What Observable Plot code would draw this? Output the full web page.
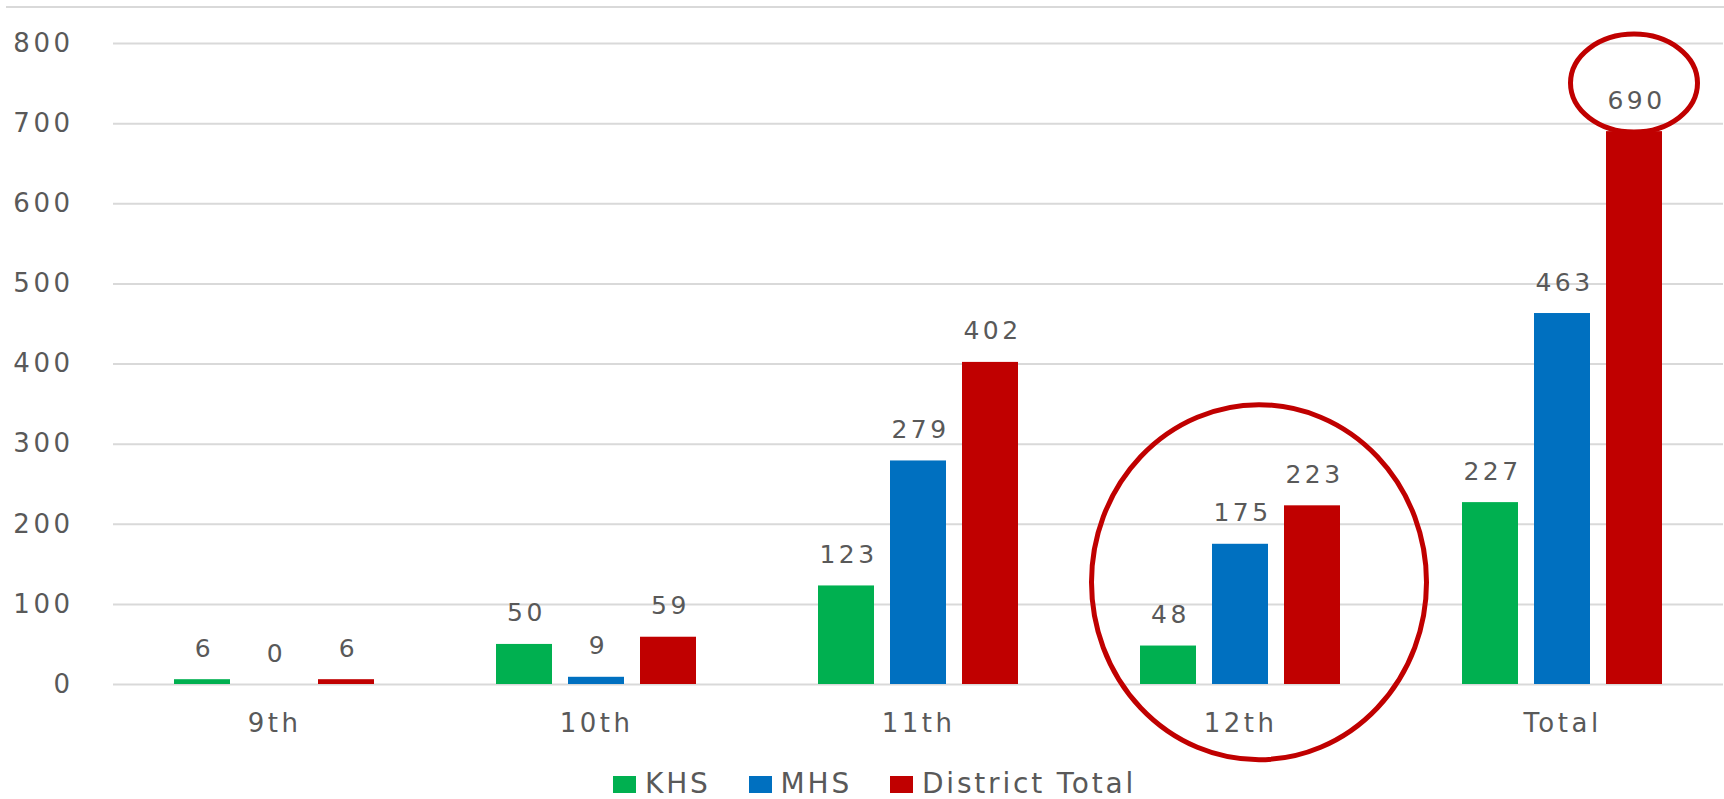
<!DOCTYPE html>
<html>
<head>
<meta charset="utf-8">
<script src="https://cdn.jsdelivr.net/npm/d3@7"></script>
<script src="https://cdn.jsdelivr.net/npm/@observablehq/plot@0.6"></script>
<style>
  html, body { margin: 0; padding: 0; background: #fff; }
  #wrap { position: relative; width: 1724px; height: 799px; overflow: hidden; font-family: "DejaVu Sans", sans-serif; }
  #topline { position: absolute; top: 6px; left: 6px; right: 0; height: 2px; background: #d9d9d9; }
  #chart { position: absolute; top: 0; left: 0; }
  #legend { position: absolute; top: 770px; left: 613px; display: flex; align-items: center; font-size: 28px; letter-spacing: 2.8px; color: #595959; line-height: 28px; height: 28px; }
  #legend .item { display: flex; align-items: center; margin-right: 38px; }
  #legend .sw { width: 23px; height: 17px; margin-right: 9px; }
</style>
</head>
<body>
<div id="wrap">
  <div id="topline"></div>
  <div id="chart"></div>
  <div id="legend"></div>
</div>
<script>
const categories = ["9th", "10th", "11th", "12th", "Total"];
const schools = ["KHS", "MHS", "District Total"];
const khs = [6, 50, 123, 48, 227];
const mhs = [0, 9, 279, 175, 463];
const district = [6, 59, 402, 223, 690];
const yTicks = [0, 100, 200, 300, 400, 500, 600, 700, 800];
const colors = ["#00b050", "#0070c0", "#c00000"];
const annotations = [
  {grade: "12th", school: "MHS", value: 127},
  {grade: "Total", school: "District Total", value: 750}
];

const series = [khs, mhs, district];
const rows = categories.flatMap((g, i) => schools.map((s, j) => ({grade: g, school: s, value: series[j][i]})));

function ellipseRender(data, rx, ry, dx) {
  return (index, scales) => {
    const g = d3.create("svg:g");
    for (const i of index) {
      const d = data[i];
      const cx = scales.x(d.school) + scales.x.bandwidth() / 2 + dx;
      const cy = scales.y(d.value);
      g.append("ellipse")
        .attr("cx", cx).attr("cy", cy).attr("rx", rx).attr("ry", ry)
        .attr("fill", "none").attr("stroke", "#c00000").attr("stroke-width", 5);
    }
    return g.node();
  };
}

const ann1 = [annotations[0]];
const ann2 = [annotations[1]];

const plot = Plot.plot({
  width: 1724,
  height: 760,
  marginTop: 43,
  marginBottom: 76,
  marginLeft: 112,
  marginRight: 0,
  style: {fontFamily: "DejaVu Sans", fontSize: "26px", color: "#595959", letterSpacing: "3.5px", background: "transparent", overflow: "visible"},
  fx: {domain: categories, padding: 0, label: null, axis: "bottom", tickSize: 0, tickPadding: 29},
  x: {domain: schools, paddingInner: 0.222, paddingOuter: 0.84, axis: null},
  y: {domain: [0, 800], ticks: yTicks, tickSize: 0, tickPadding: 40, label: null},
  color: {domain: schools, range: colors},
  marks: [
    Plot.ruleY(yTicks, {stroke: "#d9d9d9", strokeWidth: 2}),
    Plot.barY(rows, {fx: "grade", x: "school", y: "value", fill: "school"}),
    Plot.text(rows, {fx: "grade", x: "school", y: "value", text: d => String(d.value), dy: -31, dx: 2, fontSize: 25, fill: "#595959", lineAnchor: "middle"}),
    Plot.dot(ann1, {fx: "grade", x: "school", y: "value", render: ellipseRender(ann1, 167.5, 177.5, 19)}),
    Plot.dot(ann2, {fx: "grade", x: "school", y: "value", render: ellipseRender(ann2, 63.5, 49, 0)})
  ]
});
document.getElementById("chart").appendChild(plot);
plot.querySelectorAll("text").forEach(t => { if (t.getAttribute("font-size") === "25") t.style.letterSpacing = "4.8px"; });

const legend = document.getElementById("legend");
schools.forEach((s, j) => {
  const item = document.createElement("div");
  item.className = "item";
  const sw = document.createElement("span");
  sw.className = "sw";
  sw.style.background = colors[j];
  const t = document.createElement("span");
  t.textContent = s;
  item.appendChild(sw);
  item.appendChild(t);
  legend.appendChild(item);
});
</script>
</body>
</html>
